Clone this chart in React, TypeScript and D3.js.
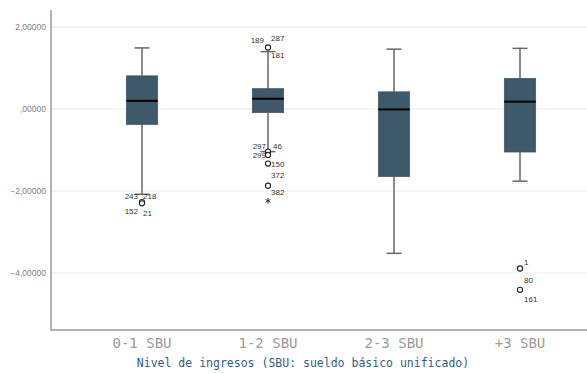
import * as d3 from "d3";

const categories = ["0-1 SBU", "1-2 SBU", "2-3 SBU", "+3 SBU"];
const whiskerHigh = [1.49, 1.40, 1.46, 1.48];
const q3Values = [0.81, 0.50, 0.42, 0.75];
const medians = [0.20, 0.25, -0.01, 0.18];
const q1Values = [-0.38, -0.09, -1.65, -1.05];
const whiskerLow = [-2.08, -1.04, -3.52, -1.76];
const yTicks = [2, 0, -2, -4];

// outliers: [category, value, kind]
const outliers: [string, number, string][] = [
  ["0-1 SBU", -2.27, "o"],
  ["0-1 SBU", -2.30, "o"],
  ["1-2 SBU", 1.50, "o"],
  ["1-2 SBU", -1.04, "o"],
  ["1-2 SBU", -1.12, "o"],
  ["1-2 SBU", -1.33, "o"],
  ["1-2 SBU", -1.87, "o"],
  ["1-2 SBU", -2.24, "*"],
  ["+3 SBU", -3.89, "o"],
  ["+3 SBU", -4.41, "o"],
];

// case labels: [category, text, value near]
const caseLabels: [string, string, number][] = [
  ["0-1 SBU", "243", -2.08],
  ["0-1 SBU", "218", -2.08],
  ["0-1 SBU", "152", -2.29],
  ["0-1 SBU", "21", -2.29],
  ["1-2 SBU", "189", 1.50],
  ["1-2 SBU", "287", 1.50],
  ["1-2 SBU", "181", 1.50],
  ["1-2 SBU", "297", -1.04],
  ["1-2 SBU", "46", -1.04],
  ["1-2 SBU", "299", -1.12],
  ["1-2 SBU", "150", -1.33],
  ["1-2 SBU", "372", -1.87],
  ["1-2 SBU", "382", -1.87],
  ["+3 SBU", "1", -3.89],
  ["+3 SBU", "80", -4.41],
  ["+3 SBU", "161", -4.41],
];
// label offsets from the point, [dx, dy, anchor]
const labelOffsets: [number, number, string][] = [
  [-4, 5, "end"], [1, 5, "start"], [-4, 11, "end"], [1, 13, "start"],
  [-4, -5, "end"], [3, -7, "start"], [3, 10, "start"],
  [-2, -3, "end"], [5, -3, "start"], [-2, 3, "end"], [3, 3, "start"],
  [3, -8, "start"], [3, 9, "start"],
  [4, -4, "start"], [4, -7, "start"], [4, 12, "start"],
];

const W = 587;
const H = 374;
const left = 51;
const top = 10;
const bottom = 330;

const tickLabel = (t: number) =>
  t === 0 ? ",00000" : d3.format(".5f")(t).replace(".", ",");

export default function App() {
  const y = d3.scaleLinear().domain([-5.39, 2.415]).range([bottom, top]);
  const x = d3.scaleBand().domain(categories).range([79, 583]);
  const cx = (c: string) => (x(c) as number) + x.bandwidth() / 2;
  const boxW = x.bandwidth() * 0.25;
  const capW = 15;
  const star = d3.symbol(d3.symbolAsterisk, 22)() as string;

  return (
    <svg width={W} height={H} style={{ position: "absolute", left: 0, top: 0, background: "#fff" }}>
      {yTicks.map((t) => (
        <g key={t}>
          <line x1={left} x2={W} y1={y(t)} y2={y(t)} stroke="#ececec" strokeWidth={1} />
          <text x={46} y={y(t) + 3} textAnchor="end" fontSize={8.5} fill="#808080"
            fontFamily="Liberation Sans, Arial, sans-serif">
            {tickLabel(t)}
          </text>
        </g>
      ))}
      <path d={`M${left},${top}V${bottom}H${W}`} fill="none" stroke="#999" strokeWidth={1.5} />

      {categories.map((c, i) => {
        const m = cx(c);
        return (
          <g key={c}>
            <line x1={m} x2={m} y1={y(whiskerHigh[i])} y2={y(q3Values[i])} stroke="#666" strokeWidth={1.5} />
            <line x1={m} x2={m} y1={y(q1Values[i])} y2={y(whiskerLow[i])} stroke="#666" strokeWidth={1.5} />
            <line x1={m - capW / 2} x2={m + capW / 2} y1={y(whiskerHigh[i])} y2={y(whiskerHigh[i])} stroke="#666" strokeWidth={1.5} />
            <line x1={m - capW / 2} x2={m + capW / 2} y1={y(whiskerLow[i])} y2={y(whiskerLow[i])} stroke="#666" strokeWidth={1.5} />
            <rect x={m - boxW / 2} y={y(q3Values[i])} width={boxW} height={y(q1Values[i]) - y(q3Values[i])}
              fill="#3e5a6a" stroke="#4a4f55" strokeWidth={0.6} />
            <line x1={m - boxW / 2} x2={m + boxW / 2} y1={y(medians[i])} y2={y(medians[i])} stroke="#000" strokeWidth={2} />
          </g>
        );
      })}

      {outliers.map(([c, v, k], i) =>
        k === "o" ? (
          <circle key={i} cx={cx(c)} cy={y(v)} r={2.6} fill="#fff" stroke="#222" strokeWidth={1.1} />
        ) : (
          <path key={i} d={star} transform={`translate(${cx(c)},${y(v)})`} fill="none" stroke="#333" strokeWidth={1} />
        )
      )}

      {caseLabels.map(([c, t, v], i) => {
        const [dx, dy, anchor] = labelOffsets[i];
        return (
          <text key={i} x={cx(c) + dx} y={y(v) + dy} textAnchor={anchor as any} fontSize={8}
            fill="#333" fontFamily="Liberation Sans, Arial, sans-serif">{t}</text>
        );
      })}

      {categories.map((c) => (
        <text key={c} x={cx(c)} y={347.5} textAnchor="middle" fontSize={14} fill="#9a9a9a"
          fontFamily="DejaVu Sans Mono, monospace">{c}</text>
      ))}
      <text x={303} y={367} textAnchor="middle" fontSize={11.5} fill="#2e5d8c"
        fontFamily="DejaVu Sans Mono, monospace">Nivel de ingresos (SBU: sueldo básico unificado)</text>
    </svg>
  );
}
